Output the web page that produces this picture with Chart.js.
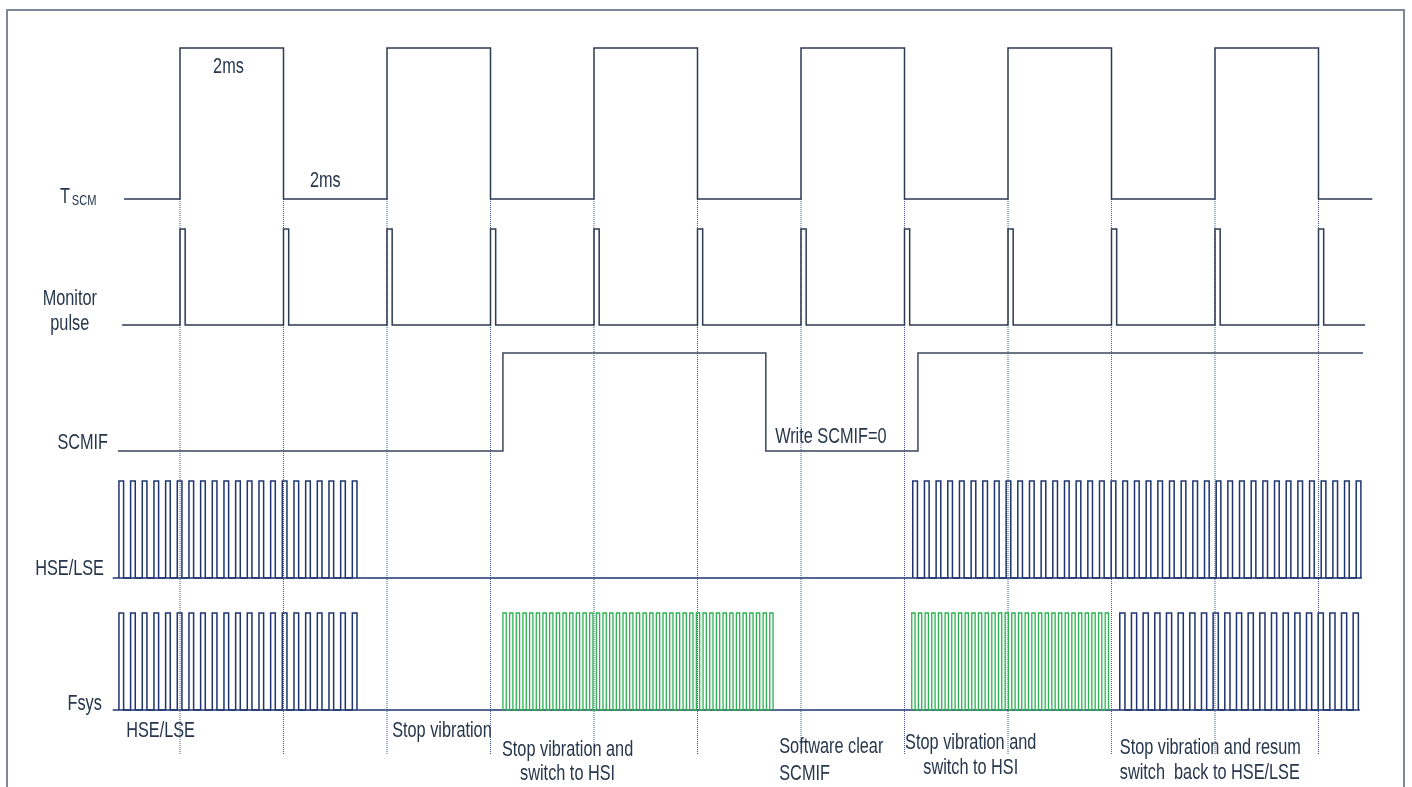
<!DOCTYPE html>
<html>
<head>
<meta charset="utf-8">
<script src="https://cdn.jsdelivr.net/npm/chart.js@4.4.1/dist/chart.umd.min.js"></script>
<style>
    html, body { margin: 0; padding: 0; background: #fff; }
    #wrap { width: 1412px; height: 787px; position: relative; }
</style>
</head>
<body>
<div id="wrap"><canvas id="timing"></canvas></div>
<script>
// time in ms, 0 = first T_SCM rising edge
const tscmEdges = [0, 2, 4, 6, 8, 10, 12, 14, 16, 18, 20, 22];
const tscmSpan = [-1.08, 23.04];

const monitorSpan = [-1.12, 22.9];
const monitorWidth = 0.1;

const scmifEdges = [6.24, 11.32, 14.26];
const scmifSpan = [-1.2, 22.86];

// clock bursts: [first rise, cycles, period, high time]
const hseBursts = [[-1.18, 21, 0.2255, 0.09], [14.16, 39, 0.2255, 0.09]];
const hseSpan = [-1.3, 22.84];

const fsysBlueBursts = [[-1.18, 21, 0.2255, 0.09], [18.16, 21, 0.2255, 0.1]];
const fsysGreenBursts = [[6.24, 41, 0.1289, 0.064], [14.14, 30, 0.1289, 0.064]];
const fsysSpan = [-1.3, 22.8];

// lane rows (low, high) on the vertical scale
const lanes = {
    tscm: [199, 48],
    monitor: [325, 229],
    scmif: [451, 353],
    hse: [578, 481],
    fsys: [710, 613]
};
const guideRows = [199, 754];

const NAVY = '#1f3470';
const SLATE = '#2c3a52';
const GREEN = '#2bb34f';
const TEXT = '#26364c';

function lvl(lane, v) {
    return lanes[lane][0] - v * (lanes[lane][0] - lanes[lane][1]);
}

// toggle edges -> outline points, starting low
function wave(lane, edges, from, to) {
    const pts = [{ x: from, y: lvl(lane, 0) }];
    let v = 0;
    edges.forEach(t => {
        pts.push({ x: t, y: lvl(lane, v) });
        v = 1 - v;
        pts.push({ x: t, y: lvl(lane, v) });
    });
    pts.push({ x: to, y: lvl(lane, v) });
    return pts;
}

function burstEdges(b) {
    const edges = [];
    for (let i = 0; i < b[1]; i++) {
        edges.push(b[0] + i * b[2], b[0] + i * b[2] + b[3]);
    }
    return edges;
}

function burst(lane, b) {
    const e = burstEdges(b);
    return wave(lane, e, e[0], e[e.length - 1]);
}

function line(data, color, extra) {
    return Object.assign({
        data: data,
        borderColor: color,
        borderWidth: 1.5,
        pointRadius: 0,
        fill: false,
        tension: 0,
        borderJoinStyle: 'miter'
    }, extra || {});
}

const monitorEdges = [];
tscmEdges.forEach(t => monitorEdges.push(t, t + monitorWidth));

const guides = [];
tscmEdges.forEach(t => {
    guides.push({ x: t, y: guideRows[0] }, { x: t, y: guideRows[1] }, { x: t, y: null });
});

const datasets = [
    line(wave('tscm', tscmEdges, tscmSpan[0], tscmSpan[1]), SLATE),
    line(wave('monitor', monitorEdges, monitorSpan[0], monitorSpan[1]), SLATE),
    line(wave('scmif', scmifEdges, scmifSpan[0], scmifSpan[1]), '#3a475c'),
    ...hseBursts.map(b => line(burst('hse', b), NAVY)),
    line([{ x: hseSpan[0], y: lvl('hse', 0) }, { x: hseSpan[1], y: lvl('hse', 0) }], NAVY),
    ...fsysGreenBursts.map(b => line(burst('fsys', b), GREEN, { borderWidth: 1.3 })),
    ...fsysBlueBursts.map(b => line(burst('fsys', b), NAVY)),
    line([{ x: fsysSpan[0], y: lvl('fsys', 0) }, { x: fsysSpan[1], y: lvl('fsys', 0) }], NAVY),
    line(guides, '#3f5590', { borderWidth: 1, borderDash: [1, 1], spanGaps: false })
];

// annotation texts: t = time position, row = vertical centre
const notes = [
    { text: '2ms', t: 0.64, row: 67 },
    { text: '2ms', t: 2.51, row: 181 },
    { text: 'Monitor', t: -2.13, row: 299, align: 'center' },
    { text: 'pulse', t: -2.13, row: 324, align: 'center' },
    { text: 'SCMIF', t: -1.39, row: 443, align: 'right' },
    { text: 'HSE/LSE', t: -1.47, row: 569, align: 'right' },
    { text: 'Fsys', t: -1.51, row: 704, align: 'right' },
    { text: 'Write SCMIF=0', t: 11.5, row: 437 },
    { text: 'HSE/LSE', t: -1.04, row: 731 },
    { text: 'Stop vibration', t: 4.1, row: 731 },
    { text: 'Stop vibration and', t: 7.49, row: 750, align: 'center' },
    { text: 'switch to HSI', t: 7.49, row: 774, align: 'center' },
    { text: 'Software clear', t: 11.58, row: 747 },
    { text: 'SCMIF', t: 11.58, row: 774 },
    { text: 'Stop vibration and', t: 15.28, row: 743, align: 'center' },
    { text: 'switch to HSI', t: 15.28, row: 768, align: 'center' },
    { text: 'Stop vibration and resum', t: 18.16, row: 748 },
    { text: 'switch  back to HSE/LSE', t: 18.16, row: 773 }
];

const SQUEEZE = 0.74;

function squeezed(ctx, text, x, y, align) {
    ctx.save();
    ctx.translate(x, y);
    ctx.scale(SQUEEZE, 1);
    ctx.textAlign = align || 'left';
    ctx.fillText(text, 0, 0);
    ctx.restore();
}

const textPlugin = {
    id: 'timingText',
    beforeDraw(chart) {
        const ctx = chart.ctx;
        ctx.save();
        ctx.fillStyle = '#fff';
        ctx.fillRect(0, 0, chart.width, chart.height);
        ctx.strokeStyle = '#7d8898';
        ctx.lineWidth = 2;
        ctx.beginPath();
        ctx.moveTo(7, chart.height);
        ctx.lineTo(7, 10);
        ctx.lineTo(1404, 10);
        ctx.lineTo(1404, chart.height);
        ctx.stroke();
        ctx.restore();
    },
    afterDatasetsDraw(chart) {
        const ctx = chart.ctx;
        const xs = chart.scales.x;
        const ys = chart.scales.y;
        ctx.save();
        ctx.fillStyle = TEXT;
        ctx.textBaseline = 'middle';
        ctx.font = '22px "Liberation Sans", Arial, sans-serif';
        notes.forEach(n => {
            squeezed(ctx, n.text, xs.getPixelForValue(n.t), ys.getPixelForValue(n.row), n.align);
        });
        // T with SCM subscript
        ctx.textBaseline = 'alphabetic';
        squeezed(ctx, 'T', xs.getPixelForValue(-2.32), ys.getPixelForValue(203));
        ctx.font = '15px "Liberation Sans", Arial, sans-serif';
        squeezed(ctx, 'SCM', xs.getPixelForValue(-2.09), ys.getPixelForValue(205));
        ctx.restore();
    }
};

new Chart(document.getElementById('timing'), {
    type: 'line',
    data: { datasets: datasets },
    options: {
        responsive: true,
        maintainAspectRatio: false,
        animation: false,
        events: [],
        layout: { padding: 0 },
        plugins: {
            legend: { display: false },
            tooltip: { enabled: false }
        },
        scales: {
            x: { type: 'linear', min: -180 / 51.75, max: (1412 - 180) / 51.75, display: false },
            y: { type: 'linear', min: 0, max: 787, reverse: true, display: false }
        }
    },
    plugins: [textPlugin]
});
</script>
</body>
</html>
